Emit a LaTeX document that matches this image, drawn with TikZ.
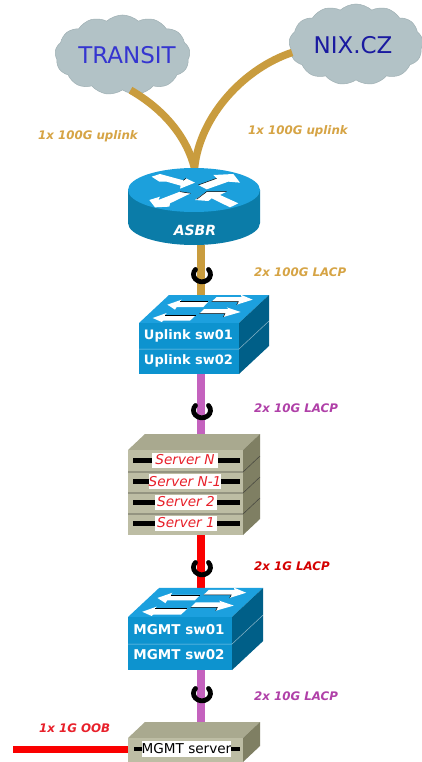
\documentclass[tikz,border=0pt]{standalone}
\usepackage{fontspec}
\setmainfont{DejaVu Sans}
\usetikzlibrary{shapes.symbols}
\definecolor{gold}{HTML}{C99C3E}
\definecolor{lacpgold}{HTML}{D6A445}
\definecolor{pinkl}{HTML}{C462BE}
\definecolor{purp}{HTML}{B040A8}
\definecolor{redl}{HTML}{FA0000}
\definecolor{redt}{HTML}{E8202A}
\definecolor{cloudc}{HTML}{B2C2C6}
\definecolor{cloude}{HTML}{9FB0B4}
\definecolor{swtop}{HTML}{1CA0DE}
\definecolor{swfront}{HTML}{0D93CF}
\definecolor{swside}{HTML}{005F88}
\definecolor{rtop}{HTML}{1CA0DC}
\definecolor{rside}{HTML}{0B7CA8}
\definecolor{srvfront}{HTML}{BDBDA4}
\definecolor{srvtop}{HTML}{A9A98F}
\definecolor{srvside}{HTML}{7F7F63}
\definecolor{transitc}{HTML}{3535D0}
\definecolor{nixc}{HTML}{1A1AA0}
\tikzset{
 x=1pt,y=-1pt,
 linkline/.style={line width=#1,line cap=butt},
 linkline/.default=8pt,
 puff/.style={cloud,cloud puffs=13,cloud puff arc=85,aspect=1.7,fill=cloudc,draw=cloude,line width=.5pt,inner sep=0pt},
 ringarc/.style={draw=black,line width=4.8pt,line cap=round},
 lbl/.style={font=\fontsize{11.8}{13}\selectfont\bfseries\itshape,inner sep=0pt},
 swtext/.style={font=\fontsize{13}{15}\selectfont\bfseries,text=white,inner sep=0pt},
 srvlabel/.style={fill=white,text=redt,font=\fontsize{13.6}{15}\selectfont\itshape,inner sep=0pt,minimum height=15pt},
 wharrow/.style={fill=white,draw=none},
 darkedge/.style={draw=black,line width=.5pt,line join=miter},
}
\newcommand{\ring}[2]{\draw[ringarc] (#1+6.5,#2-5.5) arc[start angle=-40,end angle=220,x radius=8.5,y radius=7.5];}
\newcommand{\swbox}[3]{%
 \begin{scope}[shift={(#1,#2)},xscale=#3,yscale=#3]
 \fill[swtop] (0,0) -- (30,-28) -- (130,-28) -- (100,0) -- cycle;
 \fill[swfront] (0,0) rectangle (100,51);
 \fill[swside] (100,0) -- (130,-28) -- (130,23) -- (100,51) -- cycle;
 \draw[white,opacity=.55,line width=.5pt] (0,26) -- (100,26) -- (130,-2);
 \begin{scope}[scale=1/3,shift={(-87,-220)}]
 \fill[wharrow] (172,165) -- (215,150) -- (210,156) -- (295,156) -- (280,172) -- (200,172) -- (195,180) -- cycle;
 \draw[darkedge] (210,156) -- (295,156);
 \fill[wharrow] (305,156) -- (320,142) -- (395,142) -- (392,135) -- (428,150) -- (380,165) -- (385,156) -- cycle;
 \draw[darkedge] (305,156) -- (385,156) -- (380,165);
 \fill[wharrow] (128,205) -- (170,190) -- (165,196) -- (258,196) -- (240,213) -- (160,213) -- (155,217) -- cycle;
 \draw[darkedge] (165,196) -- (258,196);
 \fill[wharrow] (268,192) -- (282,178) -- (355,178) -- (350,173) -- (392,187) -- (340,202) -- (345,192) -- cycle;
 \draw[darkedge] (268,192) -- (345,192) -- (340,202);
 \end{scope}
 \end{scope}}
\newcommand{\srvbox}[3]{%
 \begin{scope}[shift={(#1,#2)}]
 \fill[srvtop] (0,0) -- (17,-16) -- (132,-16) -- (115,0) -- cycle;
 \fill[srvfront] (0,0) rectangle (115,#3);
 \fill[srvside] (115,0) -- (132,-16) -- (132,#3-16) -- (115,#3) -- cycle;
 \end{scope}}
\begin{document}
\begin{tikzpicture}
\useasboundingbox (0,0) rectangle (422,762);
\fill[white] (0,0) rectangle (422,762);
\coordinate (asbrTop) at (194.5,168);
\coordinate (asbrBot) at (201,245);
\coordinate (up1Top) at (201,296);
\coordinate (up2Bot) at (201,374);
\coordinate (srvTop) at (201,434);
\coordinate (srvBot) at (201,535);
\coordinate (mg1Top) at (201,588);
\coordinate (mg2Bot) at (201,669);
\coordinate (msTop) at (201,723);
\coordinate (msLeft) at (128,749);
\coordinate (oobEnd) at (13,749);
% clouds
\node[puff,minimum width=135pt,minimum height=80pt] (transit) at (122.5,55) {};
\node[puff,minimum width=134pt,minimum height=81pt] (nix) at (356,44.5) {};
\node[text=transitc,font=\fontsize{23}{25}\selectfont,inner sep=0pt] (transitL) at (127,55) {TRANSIT};
\node[text=nixc,font=\fontsize{23}{25}\selectfont,inner sep=0pt] (nixL) at (353,45) {NIX.CZ};
% links
\draw[gold,linkline=7.5pt] (transit.south) ++(8,0) coordinate (tS) (tS) .. controls (165,110) and (187,138) .. (asbrTop);
\draw[gold,linkline=7.5pt] (nix.west) ++(3,8) coordinate (nW) (nW) .. controls (245,68) and (200,115) .. (asbrTop);
\draw[gold,linkline] (asbrBot) -- (up1Top);
\draw[pinkl,linkline] (up2Bot) -- (srvTop);
\draw[redl,linkline] (srvBot) -- (mg1Top);
\draw[pinkl,linkline] (mg2Bot) -- (msTop);
\draw[redl,linkline=7pt] (oobEnd) -- (msLeft);
% rings
\ring{202}{275}
\ring{202}{411}
\ring{202}{568}
\ring{202}{694}
% router
\fill[rside] (128,190) -- (128,223) arc[start angle=180,end angle=0,x radius=66,y radius=22] -- (260,190) -- cycle;
\fill[rtop] (194,190) ellipse[x radius=66,y radius=22];
\begin{scope}[shift={(20,0)},scale=1/3]
 \fill[wharrow] (395,530) -- (420,522) -- (490,541) -- (498,535) -- (525,548) -- (480,566) -- (482,557) -- (440,545) -- (418,545) -- cycle;
 \draw[darkedge] (498,535) -- (490,541);
 \fill[wharrow] (535,555) -- (590,535) -- (580,525) -- (640,522) -- (660,548) -- (625,545) -- (560,568) -- cycle;
 \draw[darkedge] (535,555) -- (590,535);
 \fill[wharrow] (388,600) -- (420,590) -- (415,600) -- (480,575) -- (512,580) -- (450,610) -- (448,620) -- (405,622) -- cycle;
 \draw[darkedge] (480,575) -- (512,580);
 \fill[wharrow] (525,600) -- (560,575) -- (620,575) -- (600,585) -- (655,610) -- (630,622) -- (575,595) -- (565,603) -- cycle;
 \draw[darkedge] (530,598) -- (560,575) -- (620,575);
\end{scope}
\node[text=white,font=\fontsize{14}{16}\selectfont\bfseries\itshape,inner sep=0pt] (asbr) at (195,230) {ASBR};
% switches
\swbox{139}{323}{1}
\node[swtext] (up1) at (188.5,336) {Uplink sw01};
\node[swtext] (up2) at (188.5,361) {Uplink sw02};
\swbox{128}{617}{1.04}
\node[swtext,font=\fontsize{13.5}{15}\selectfont\bfseries] (mg1) at (179,630) {MGMT sw01};
\node[swtext,font=\fontsize{13.5}{15}\selectfont\bfseries] (mg2) at (179,655) {MGMT sw02};
% servers
\srvbox{128}{450}{85}
\foreach \yy in {472,493,514} {
 \draw[black!60!srvfront,line width=.6pt] (128,\yy) -- (243,\yy) -- (260,\yy-16);
 }
\foreach \yy in {460,481,502,523} {\fill[black] (133,\yy-2.5) rectangle (240,\yy+2.5);}
\node[srvlabel,minimum width=66pt] (s1) at (185,460) {Server N};
\node[srvlabel,minimum width=72pt] (s2) at (185,481.5) {Server N-1};
\node[srvlabel,minimum width=62pt] (s3) at (186,502) {Server 2};
\node[srvlabel,minimum width=62pt] (s4) at (186,523) {Server 1};
\srvbox{128}{738}{24}
\fill[black] (134,747) rectangle (240,751);
\node[fill=white,text=black,font=\fontsize{13.6}{15}\selectfont,inner sep=0pt,minimum width=87pt,minimum height=16pt] (ms) at (186.5,749) {MGMT server};
% labels
\node[lbl,text=lacpgold] (l1) at (88,136) {1x 100G uplink};
\node[lbl,text=lacpgold] (l2) at (298,131) {1x 100G uplink};
\node[lbl,text=lacpgold,anchor=west] (l3) at (254,272) {2x 100G LACP};
\node[lbl,text=purp,anchor=west] (l4) at (254,408) {2x 10G LACP};
\node[lbl,text=redl!85!black,anchor=west] (l5) at (254,566) {2x 1G LACP};
\node[lbl,text=purp,anchor=west] (l6) at (254,696) {2x 10G LACP};
\node[lbl,text=redt,anchor=west] (l7) at (39,728) {1x 1G OOB};
\end{tikzpicture}
\end{document}
